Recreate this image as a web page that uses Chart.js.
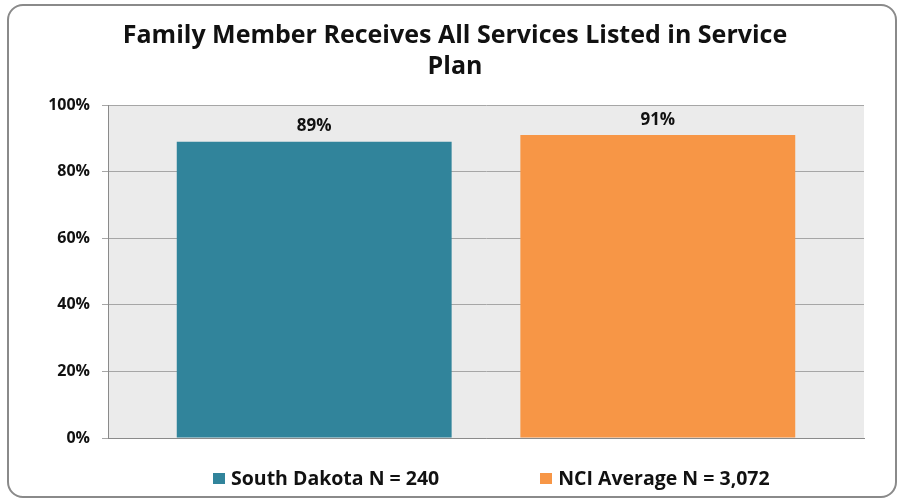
<!DOCTYPE html>
<html>
<head>
<meta charset="utf-8">
<script src="https://cdn.jsdelivr.net/npm/chart.js@4"></script>
<style>
  body { margin: 0; background: #fff; }
  #wrap { position: relative; width: 898px; height: 502px; }
  #frame { position: absolute; left: 7px; top: 4px; width: 886px; height: 490px;
           border: 2px solid #8a8a8a; border-radius: 16px; }
  #c { position: absolute; left: 0; top: 0; }
  #legend { position: absolute; left: 213px; top: 465px; display: flex;
            font: bold 19.5px "Open Sans", sans-serif; color: #111; line-height: 26px; white-space: nowrap; }
  .item { display: flex; align-items: center; }
  .item + .item { margin-left: 101px; }
  .box { width: 12px; height: 11px; margin-right: 6px; }
</style>
</head>
<body>
<div id="wrap">
  <div id="frame"></div>
  <canvas id="c" width="898" height="502"></canvas>
  <div id="legend"></div>
</div>
<script>
const titleLines = ['Family Member Receives All Services Listed in Service', 'Plan'];
const categories = [''];
const seriesNames = ['South Dakota N = 240', 'NCI Average N = 3,072'];
const seriesValues = [89, 91];
const seriesColors = ['#31849b', '#f79646'];
const yTicks = [0, 20, 40, 60, 80, 100];

const plotBg = {
  id: 'plotBg',
  beforeDraw(chart) {
    const { ctx, chartArea: a } = chart;
    ctx.save();
    ctx.fillStyle = '#ebebeb';
    ctx.fillRect(a.left, a.top, a.right - a.left, a.bottom - a.top);
    ctx.restore();
  }
};

const valueLabels = {
  id: 'valueLabels',
  afterDatasetsDraw(chart) {
    const ctx = chart.ctx;
    ctx.save();
    ctx.font = 'bold 17px "Open Sans", sans-serif';
    ctx.fillStyle = '#111';
    ctx.textAlign = 'center';
    ctx.textBaseline = 'middle';
    chart.data.datasets.forEach((ds, i) => {
      chart.getDatasetMeta(i).data.forEach((bar, j) => {
        ctx.fillText(ds.data[j] + '%', bar.x, bar.y - 15);
      });
    });
    ctx.restore();
  }
};

new Chart(document.getElementById('c'), {
  type: 'bar',
  data: {
    labels: categories,
    datasets: seriesNames.map((n, i) => ({
      label: n,
      data: [seriesValues[i]],
      backgroundColor: seriesColors[i],
      categoryPercentage: 0.909,
      barPercentage: 0.8
    }))
  },
  options: {
    responsive: false,
    animation: false,
    layout: { padding: { left: 46, right: 34, top: 0, bottom: 56 } },
    plugins: {
      legend: { display: false },
      tooltip: { enabled: false },
      title: {
        display: true,
        text: titleLines,
        color: '#111',
        font: { family: 'Open Sans', size: 25, weight: 'bold', lineHeight: 1.24 },
        padding: { top: 20, bottom: 23 }
      }
    },
    scales: {
      x: {
        ticks: { display: false },
        grid: { display: false },
        border: { display: true, color: '#8a8a8a', width: 1 }
      },
      y: {
        min: 0, max: 100,
        afterBuildTicks: s => { s.ticks = yTicks.map(v => ({ value: v })); },
        afterFit: s => { s.width = 62; },
        ticks: { callback: v => v + '%', color: '#111', padding: 12,
                 font: { family: 'Open Sans', size: 16, weight: 'bold' } },
        grid: { color: '#a6a6a6', tickLength: 6 },
        border: { display: true, color: '#8a8a8a', width: 1 }
      }
    }
  },
  plugins: [plotBg, valueLabels]
});

const legend = document.getElementById('legend');
seriesNames.forEach((n, i) => {
  const it = document.createElement('div');
  it.className = 'item';
  const b = document.createElement('span');
  b.className = 'box';
  b.style.background = seriesColors[i];
  const t = document.createElement('span');
  t.textContent = n;
  it.appendChild(b); it.appendChild(t);
  legend.appendChild(it);
});
</script>
</body>
</html>
